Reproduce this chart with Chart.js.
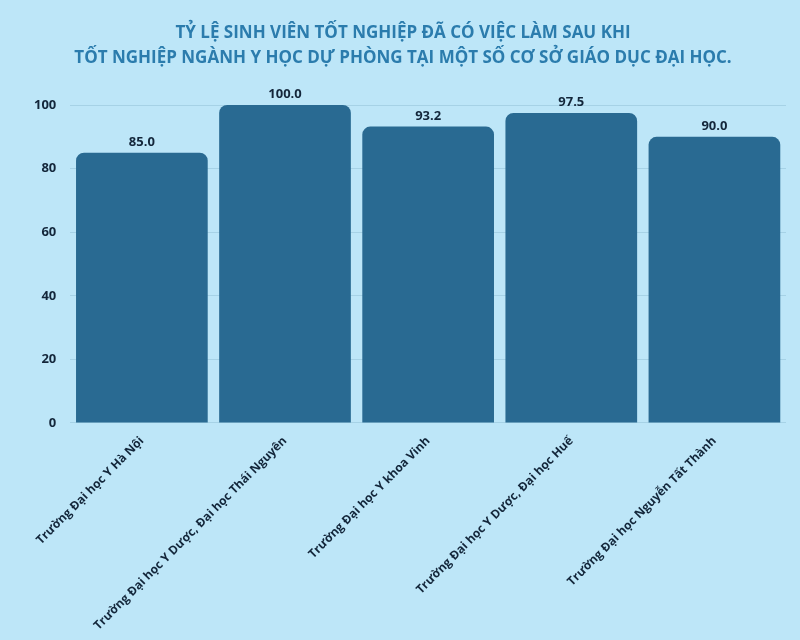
<!DOCTYPE html>
<html><head><meta charset="utf-8">
<script src="https://cdn.jsdelivr.net/npm/chart.js@4"></script>
<style>html,body{margin:0;background:#bde6f8;}#w{width:800px;height:640px;}</style>
</head><body><div id="w"><canvas id="c"></canvas></div>
<script>
const categories = ["Trường Đại học Y Hà Nội","Trường Đại học Y Dược, Đại học Thái Nguyên","Trường Đại học Y khoa Vinh","Trường Đại học Y Dược, Đại học Huế","Trường Đại học Nguyễn Tất Thành"];
const values = [85.0, 100.0, 93.2, 97.5, 90.0];
const titleLines = ["TỶ LỆ SINH VIÊN TỐT NGHIỆP ĐÃ CÓ VIỆC LÀM SAU KHI","TỐT NGHIỆP NGÀNH Y HỌC DỰ PHÒNG TẠI MỘT SỐ CƠ SỞ GIÁO DỤC ĐẠI HỌC."];
const fontFam = '"Open Sans", sans-serif';
const valueLabels = {
  id: 'vl',
  afterDatasetsDraw(ch) {
    const ctx = ch.ctx;
    ctx.save();
    ctx.font = 'bold 13px ' + fontFam;
    ctx.fillStyle = '#13263a';
    ctx.textAlign = 'center';
    ctx.textBaseline = 'bottom';
    ch.getDatasetMeta(0).data.forEach((b, i) => ctx.fillText(values[i].toFixed(1), b.x, b.y - 4));
    ctx.restore();
  }
};
const config = {
  type: 'bar',
  data: {
    labels: categories,
    datasets: [{ data: values, backgroundColor: '#296a92', borderRadius: 8, borderSkipped: 'bottom', categoryPercentage: 1, barPercentage: 0.92 }]
  },
  options: {
    responsive: true, maintainAspectRatio: false, animation: false,
    layout: { padding: { left: 20, right: 14, top: 0, bottom: 4 } },
    plugins: {
      legend: { display: false },
      tooltip: { enabled: false },
      title: { display: true, text: titleLines, color: '#2b7cad', font: { size: 17, weight: 'bold', family: fontFam, lineHeight: 1.5 }, padding: { top: 20, bottom: 34 } }
    },
    scales: {
      y: { min: 0, max: 100, ticks: { stepSize: 20, color: '#13263a', font: { size: 13, weight: 'bold', family: fontFam }, padding: 14 }, grid: { color: '#a6d2e6', drawTicks: false }, border: { display: false } },
      x: { ticks: { color: '#13263a', maxRotation: 45, minRotation: 45, font: { size: 12, weight: 'bold', family: fontFam } }, grid: { display: false }, border: { display: false } }
    }
  },
  plugins: [valueLabels]
};
new Chart(document.getElementById('c'), config);
</script></body></html>
